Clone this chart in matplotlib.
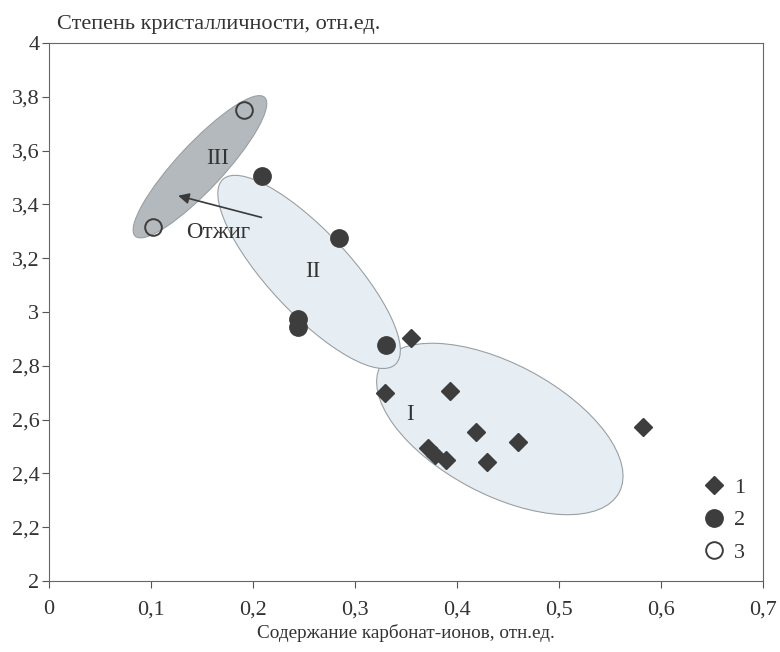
import matplotlib
matplotlib.use("Agg")
import matplotlib.pyplot as plt
from matplotlib.patches import Ellipse
from matplotlib.ticker import FuncFormatter, MultipleLocator
from matplotlib.transforms import Affine2D

plt.rcParams['font.family'] = ['Liberation Serif', 'DejaVu Serif']

# series 1 (diamonds)
x1 = [0.355, 0.329, 0.393, 0.419, 0.460, 0.372, 0.378, 0.389, 0.429, 0.582]
y1 = [2.903, 2.699, 2.706, 2.554, 2.517, 2.494, 2.468, 2.450, 2.442, 2.572]
# series 2 (filled circles)
x2 = [0.209, 0.284, 0.244, 0.244, 0.330]
y2 = [3.506, 3.275, 2.975, 2.945, 2.877]
# series 3 (open circles)
x3 = [0.191, 0.102]
y3 = [3.751, 3.316]

# regions: centre x, centre y, major, minor (in x units), angle (deg)
regions = {
    "I":   dict(c=(0.442, 2.565), w=0.265, h=0.128, ang=-28, fc='#e7eef3', lab=(0.354, 2.617)),
    "II":  dict(c=(0.255, 3.149), w=0.248, h=0.080, ang=-47, fc='#e7eef3', lab=(0.259, 3.149)),
    "III": dict(c=(0.148, 3.540), w=0.186, h=0.045, ang=47, fc='#b4b9bd', lab=(0.165, 3.57)),
}

fig = plt.figure(figsize=(7.8, 6.52), dpi=100)
ax = fig.add_axes([0.0628, 0.109, 0.9154, 0.825])
ax.set_xlim(0, 0.7)
ax.set_ylim(2, 4)

# ratio so that ellipses keep their shape on screen
bb = ax.get_position()
k = (bb.height * 6.52 / 2.0) / (bb.width * 7.8 / 0.7)

for name, r in regions.items():
    e = Ellipse((r['c'][0], r['c'][1] * k), r['w'], r['h'], angle=r['ang'],
                facecolor=r['fc'], edgecolor='#9a9fa3', linewidth=0.8,
                transform=Affine2D().scale(1, 1 / k) + ax.transData, zorder=1)
    ax.add_patch(e)
    ax.text(r['lab'][0], r['lab'][1], name, fontsize=16.5, color='#333333',
            ha='center', va='center', zorder=2)

ax.annotate("", xy=(0.124, 3.435), xytext=(0.211, 3.349),
            arrowprops=dict(arrowstyle='-|>', color='#3a3a3a', lw=1.2,
                            mutation_scale=16), zorder=3)
ax.text(0.166, 3.294, "Отжиг", fontsize=16.5, color='#333333',
        ha='center', va='center', zorder=3)

ax.plot(x1, y1, 'D', color='#3d3d3d', markersize=9.5, linestyle='none', label='1', zorder=4)
ax.plot(x2, y2, 'o', color='#3d3d3d', markersize=12.5, linestyle='none', label='2', zorder=4)
ax.plot(x3, y3, 'o', markerfacecolor='none', markeredgecolor='#3d3d3d',
        markeredgewidth=1.4, markersize=12, linestyle='none', label='3', zorder=4)

leg = ax.legend(loc='lower right', bbox_to_anchor=(1.0, 0.0), frameon=False,
                fontsize=16, handletextpad=0.1, labelspacing=0.55,
                handlelength=1.6, borderpad=0.3)
for t in leg.get_texts():
    t.set_color('#333333')

fmt = FuncFormatter(lambda v, p: f"{v:g}".replace('.', ','))
ax.xaxis.set_major_locator(MultipleLocator(0.1))
ax.yaxis.set_major_locator(MultipleLocator(0.2))
ax.xaxis.set_major_formatter(fmt)
ax.yaxis.set_major_formatter(fmt)
ax.tick_params(direction='out', length=5, width=0.8, colors='#555555',
               labelcolor='#333333', labelsize=16)
ax.tick_params(axis='x', pad=9)
ax.tick_params(axis='y', pad=2)
for s in ax.spines.values():
    s.set_color('#666666')
    s.set_linewidth(0.8)

ax.set_xlabel("Содержание карбонат-ионов, отн.ед.", fontsize=13.8, color='#333333', labelpad=3)
fig.text(0.073, 0.963, "Степень кристалличности, отн.ед.", fontsize=16,
         color='#333333', ha='left', va='center')

fig.savefig("out.png", dpi=100)
